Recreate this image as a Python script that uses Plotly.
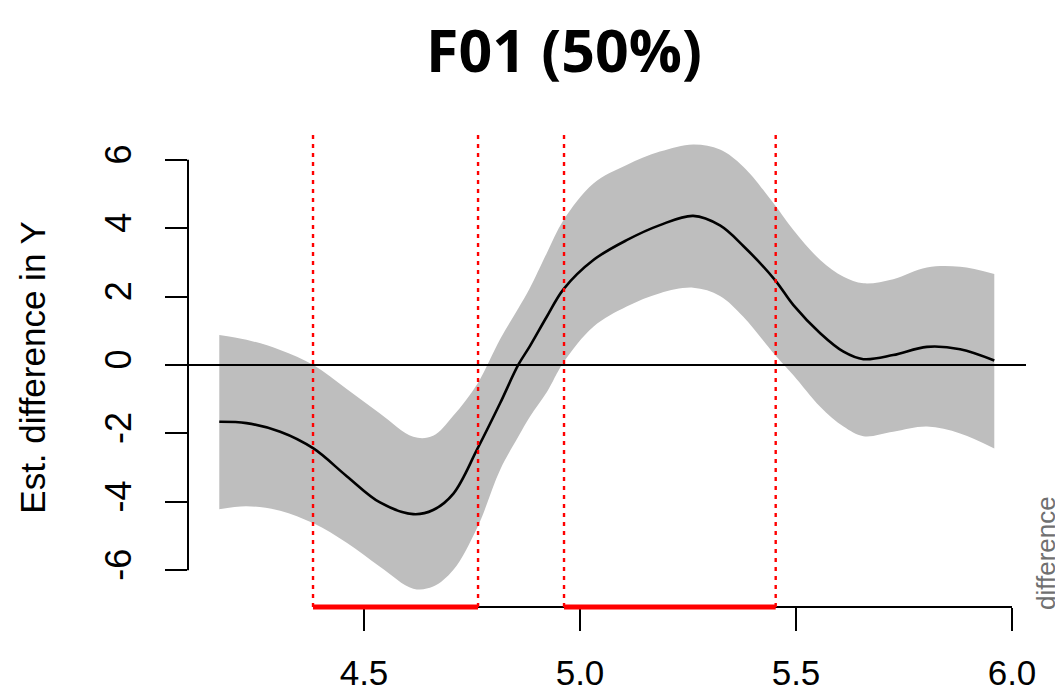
import plotly.graph_objects as go

# ---- data ----
x_vals = [4.165, 4.228, 4.306, 4.383, 4.460, 4.537, 4.614, 4.660, 4.707, 4.763,
          4.815, 4.857, 4.884, 4.923, 4.962, 5.031, 5.108, 5.185, 5.262, 5.324,
          5.378, 5.451, 5.494, 5.556, 5.610, 5.656, 5.725, 5.803, 5.880, 5.959]
est = [-1.66, -1.70, -1.95, -2.44, -3.25, -4.02, -4.36, -4.24, -3.76, -2.44,
       -1.12, 0.0, 0.55, 1.41, 2.22, 3.07, 3.65, 4.09, 4.36, 4.08,
       3.48, 2.49, 1.75, 0.93, 0.39, 0.17, 0.29, 0.53, 0.46, 0.13]
upper = [0.88, 0.74, 0.44, 0.0, -0.70, -1.42, -2.10, -2.07, -1.48, -0.54,
         0.75, 1.65, 2.25, 3.27, 4.24, 5.31, 5.85, 6.24, 6.45, 6.30,
         5.80, 4.68, 3.95, 3.07, 2.58, 2.39, 2.51, 2.85, 2.87, 2.66]
lower = [-4.22, -4.13, -4.26, -4.63, -5.20, -5.90, -6.54, -6.48, -5.99, -4.73,
         -3.07, -2.10, -1.51, -0.80, 0.08, 1.12, 1.71, 2.10, 2.26, 2.02,
         1.41, 0.30, -0.30, -1.22, -1.80, -2.08, -1.95, -1.80, -2.00, -2.44]
sig_start = [4.382, 4.963]
sig_end = [4.764, 5.453]
x_ticks = [4.5, 5.0, 5.5, 6.0]
x_tick_labels = ["4.5", "5.0", "5.5", "6.0"]
y_ticks = [-6, -4, -2, 0, 2, 4, 6]
y_tick_labels = ["-6", "-4", "-2", "0", "2", "4", "6"]

title_text = "F01 (50%)"
y_title = "Est. difference in Y"
side_text = "difference"

# page has an 8px body margin: figure is placed at (8, 8) in the window
OFF = 8
W, H = 1063 - OFF, 691 - OFF
L, R, T, B = 188 - OFF, 37, 130 - OFF, 84
PW, PH = W - L - R, H - T - B

fig = go.Figure()
fig.add_trace(go.Scatter(x=x_vals, y=lower, mode="lines", line=dict(width=0, shape="spline", color="#BEBEBE"),
                         showlegend=False, hoverinfo="skip"))
fig.add_trace(go.Scatter(x=x_vals, y=upper, mode="lines", line=dict(width=0, shape="spline", color="#BEBEBE"),
                         fill="tonexty", fillcolor="#BEBEBE", showlegend=False, hoverinfo="skip"))
fig.add_trace(go.Scatter(x=x_vals, y=est, mode="lines", line=dict(width=2.6, shape="spline", color="black"),
                         showlegend=False))

shapes = []
shapes.append(dict(type="line", xref="paper", yref="y", x0=0, x1=1, y0=0, y1=0,
                   line=dict(color="black", width=2), layer="above"))
shapes.append(dict(type="line", xref="paper", yref="y", x0=0, x1=0, y0=y_ticks[0], y1=y_ticks[-1],
                   line=dict(color="black", width=2), layer="above"))
shapes.append(dict(type="line", xref="x", yref="paper", x0=x_ticks[0], x1=x_ticks[-1], y0=0, y1=0,
                   line=dict(color="black", width=2), layer="above"))
for s, e in zip(sig_start, sig_end):
    for xv in (s, e):
        shapes.append(dict(type="line", xref="x", yref="paper", x0=xv, x1=xv, y0=0, y1=1,
                           line=dict(color="red", width=2.4, dash="4px,5px"), layer="above"))
    shapes.append(dict(type="line", xref="x", yref="paper", x0=s, x1=e, y0=0, y1=0,
                       line=dict(color="red", width=5), layer="above"))

fig.update_layout(
    width=W, height=H,
    margin=dict(l=L, r=R, t=T, b=B, pad=0, autoexpand=False),
    plot_bgcolor="white", paper_bgcolor="white",
    shapes=shapes,
    title=dict(text="<b>" + title_text + "</b>", x=(564 - OFF) / W, xref="container", xanchor="center",
               y=1 - (51 - OFF) / H, yref="container", yanchor="middle",
               font=dict(family="Open Sans", size=59, color="black")),
    xaxis=dict(range=[4.0926, 6.0324], tickvals=x_ticks, ticktext=x_tick_labels,
               ticks="outside", ticklen=23, tickwidth=2, tickcolor="black", ticklabelstandoff=12,
               showline=False, showgrid=False, zeroline=False, automargin=False,
               tickfont=dict(family="Liberation Sans", size=35, color="black")),
    yaxis=dict(range=[-7.076, 6.871], tickvals=y_ticks, ticktext=y_tick_labels,
               ticks="outside", ticklen=22, tickwidth=2, tickcolor="black", tickangle=-90,
               ticklabelstandoff=20, automargin=False,
               showline=False, showgrid=False, zeroline=False,
               tickfont=dict(family="Liberation Sans", size=36, color="black")),
    annotations=[
        dict(text=y_title, xref="paper", yref="paper", x=(31.7 - 188) / PW, y=(607 - 367) / PH,
             xanchor="center", yanchor="middle", textangle=-90, showarrow=False,
             font=dict(family="Liberation Sans", size=35, color="black")),
        dict(text=side_text, xref="paper", yref="paper", x=(1046 - 188) / PW, y=(607 - 553) / PH,
             xanchor="center", yanchor="middle", textangle=-90, showarrow=False,
             font=dict(family="Liberation Sans", size=26, color="#707070")),
    ],
)

fig.write_html("out.html")
